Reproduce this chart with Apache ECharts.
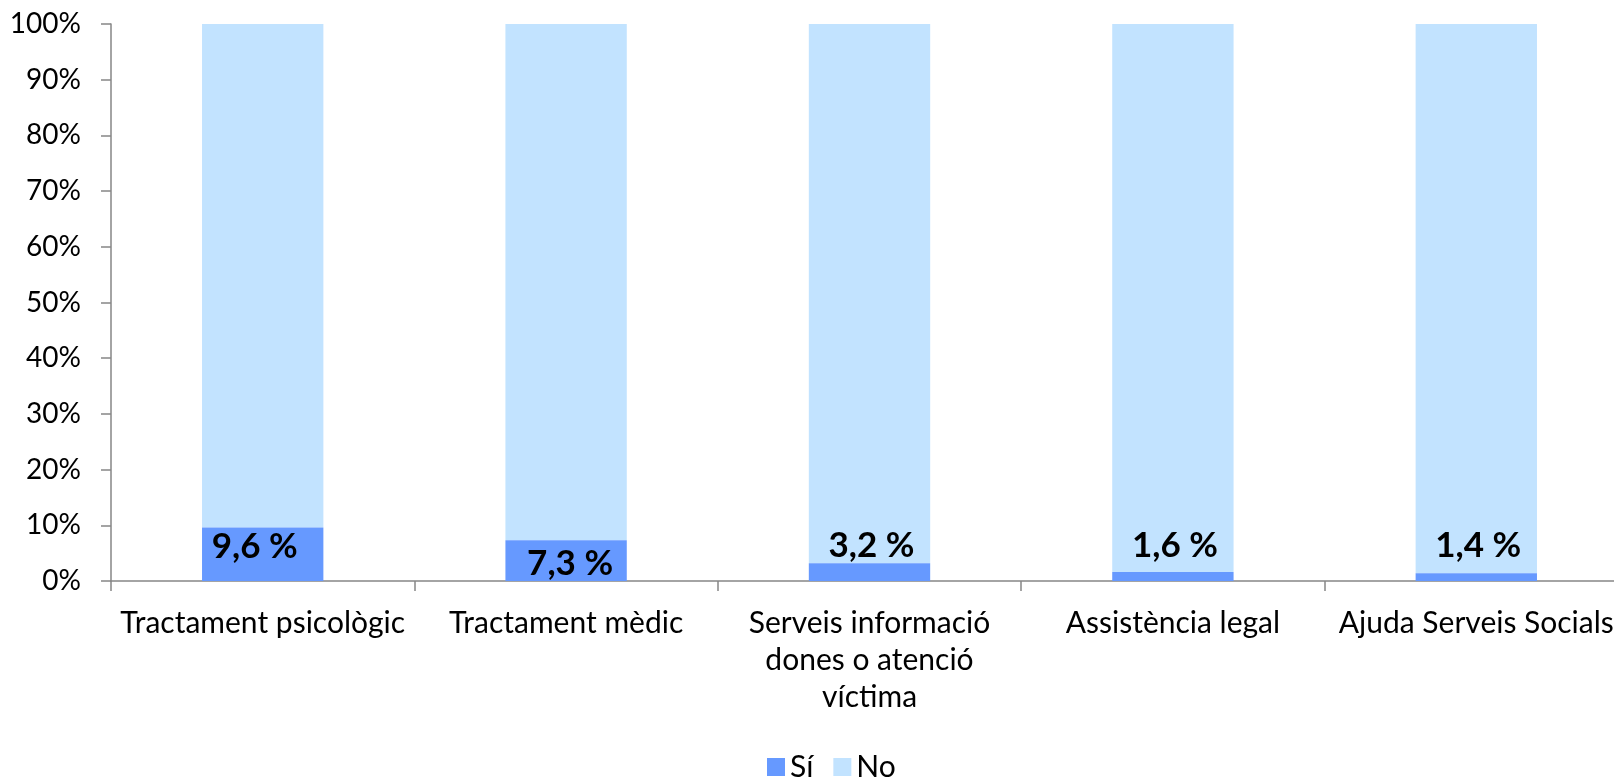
<!DOCTYPE html>
<html>
<head>
<meta charset="utf-8">
<script src="https://cdn.jsdelivr.net/npm/echarts@6/dist/echarts.min.js"></script>
<style>html,body{margin:0;padding:0;background:#fff}#c{width:1614px;height:777px}</style>
</head>
<body>
<div id="c"></div>
<script>
const categories = ["Tractament psicològic", "Tractament mèdic", "Serveis informació\ndones o atenció\nvíctima", "Assistència legal", "Ajuda Serveis Socials"];
const siValues = [9.6, 7.3, 3.2, 1.6, 1.4];
const noValues = [90.4, 92.7, 96.8, 98.4, 98.6];
const seriesNames = ["Sí", "No"];
const yTicks = [0, 10, 20, 30, 40, 50, 60, 70, 80, 90, 100];

const FONT = 'Lato';
// per-label placement (visual only)
const labelPlacement = [
  {position: 'inside', offset: [-8, -8]},
  {position: 'inside', offset: [4, 3]},
  {position: 'top', distance: 0, offset: [2, 0]},
  {position: 'top', distance: 9, offset: [2, 0]},
  {position: 'top', distance: 10, offset: [2, 0]}
];

const chart = echarts.init(document.getElementById('c'));
chart.setOption({
  backgroundColor: '#ffffff',
  animation: false,
  textStyle: {fontFamily: FONT},
  grid: {left: 111, width: 1517, top: 24, bottom: 196, containLabel: false, outerBoundsMode: 'none'},
  legend: {
    data: seriesNames,
    top: 747,
    left: 762,
    itemWidth: 18, itemHeight: 18, itemGap: 20,
    icon: 'rect',
    textStyle: {fontFamily: FONT, fontSize: 30, color: '#000'}
  },
  xAxis: {
    type: 'category',
    data: categories,
    axisLine: {lineStyle: {color: '#868686', width: 1.5}},
    axisTick: {show: true, length: 10, lineStyle: {color: '#868686', width: 1.5}},
    axisLabel: {fontFamily: FONT, fontSize: 30, color: '#000', margin: 24, lineHeight: 37, interval: 0, hideOverlap: false}
  },
  yAxis: {
    type: 'value',
    min: 0, max: 100, interval: 10,
    splitLine: {show: false},
    axisLine: {show: true, lineStyle: {color: '#868686', width: 1.5}},
    axisTick: {show: true, length: 10, lineStyle: {color: '#868686', width: 1.5}},
    axisLabel: {fontFamily: FONT, fontSize: 28, color: '#000', margin: 30, formatter: v => yTicks.includes(v) ? v + '%' : ''}
  },
  series: [
    {
      name: seriesNames[0], type: 'bar', stack: 's', barWidth: '40%',
      itemStyle: {color: '#6699FF'},
      data: siValues.map((v, i) => ({
        value: v,
        label: Object.assign({
          show: true,
          formatter: String(v).replace('.', ',') + ' %',
          fontFamily: FONT, fontWeight: 'bold', fontSize: 35, color: '#000'
        }, labelPlacement[i])
      })),
      z: 3
    },
    {
      name: seriesNames[1], type: 'bar', stack: 's', barWidth: '40%',
      itemStyle: {color: '#C2E3FF'},
      data: noValues,
      z: 2
    }
  ]
});
</script>
</body>
</html>
